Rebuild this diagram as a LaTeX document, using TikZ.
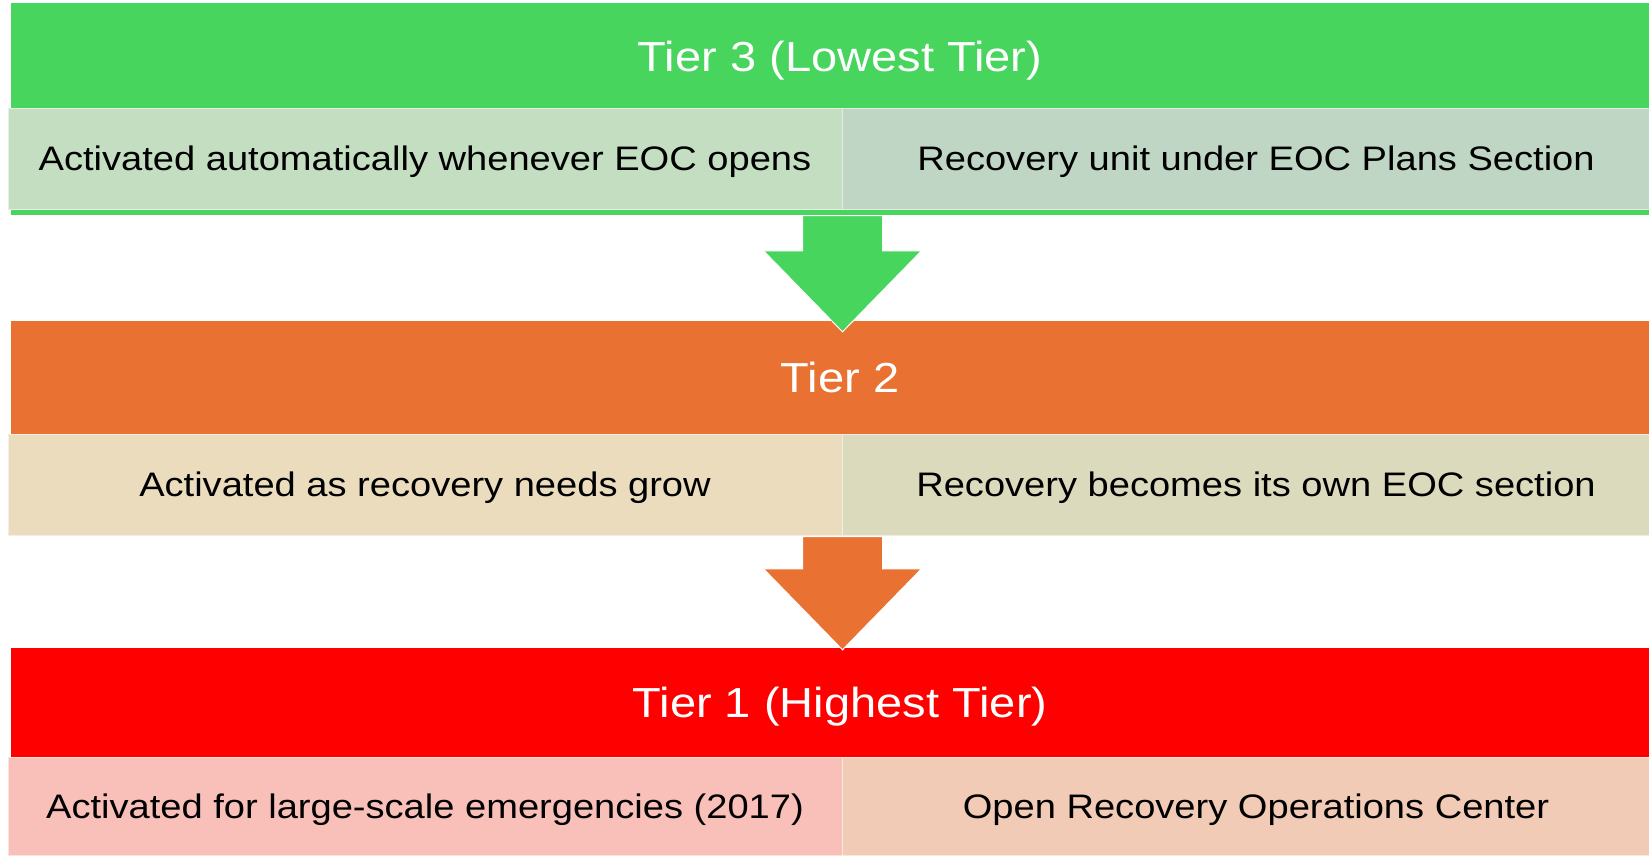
\documentclass[tikz,border=0pt]{standalone}
\usepackage{fontspec}
\setmainfont{Liberation Sans}[FakeStretch=1.12]
\usepackage{tikz}
\usetikzlibrary{calc}

\definecolor{greenhead}{HTML}{47D55E}
\definecolor{greenleft}{HTML}{C4DEC2}
\definecolor{greenright}{HTML}{C0D6C5}
\definecolor{orangehead}{HTML}{E97132}
\definecolor{orangeleft}{HTML}{EADCBD}
\definecolor{orangeright}{HTML}{DCDABD}
\definecolor{redhead}{HTML}{FF0000}
\definecolor{redleft}{HTML}{F8C0B9}
\definecolor{redright}{HTML}{F1CBB5}

\tikzset{
  tierhead/.style={rectangle, fill=#1, inner sep=0pt, minimum width=1658pt,
    text height=30pt, text depth=0pt,
    text=white, font=\fontsize{42}{50}\selectfont},
  tiercell/.style={rectangle, fill=#1, draw=#1!45!white, line width=1pt,
    inner sep=0pt, text height=24pt, text depth=0pt,
    text=black, font=\fontsize{34}{40}\selectfont},
}

% block arrow from the bottom of one tier to the top of the next
\newcommand{\tierarrow}[3]{%
  \filldraw[fill=#3, draw=white, line width=1pt]
    let \p1=(#1), \p2=(#2) in
    (\x1-40pt,\y1) -- (\x1+40pt,\y1) -- (\x1+40pt,\y2+81pt)
    -- (\x1+79pt,\y2+81pt) -- (\x1,\y2) -- (\x1-79pt,\y2+81pt)
    -- (\x1-40pt,\y2+81pt) -- cycle;
}

\begin{document}
\begin{tikzpicture}[x=1pt, y=-1pt]
\useasboundingbox (0,0) rectangle (1649,855);

%% Tier 3
\fill[greenhead] (11,3) rectangle (1669,215);
\path
(840,56) node[tierhead=greenhead, minimum height=105pt](tier3) {Tier 3 (Lowest Tier)}
(425,158.5) node[tiercell=greenleft, minimum width=834pt, minimum height=101pt](t3left)
  {Activated automatically whenever EOC opens}
(1256,158.5) node[tiercell=greenright, minimum width=828pt, minimum height=101pt](t3right)
  {Recovery unit under EOC Plans Section};

%% Tier 2
\path
(840,377.5) node[tierhead=orangehead, minimum height=113pt](tier2) {Tier 2}
(425,484.5) node[tiercell=orangeleft, minimum width=834pt, minimum height=101pt](t2left)
  {Activated as recovery needs grow}
(1256,484.5) node[tiercell=orangeright, minimum width=828pt, minimum height=101pt](t2right)
  {Recovery becomes its own EOC section};

%% Tier 1
\path
(840,702.5) node[tierhead=redhead, minimum height=109pt](tier1) {Tier 1 (Highest Tier)}
(425,806) node[tiercell=redleft, minimum width=834pt, minimum height=98pt](t1left)
  {Activated for large-scale emergencies (2017)}
(1256,806) node[tiercell=redright, minimum width=828pt, minimum height=98pt](t1right)
  {Open Recovery Operations Center};

%% arrows between the tiers
\tierarrow{$(t3left.south east)+(0,6)$}{$(tier2.north)+(0,11)$}{greenhead}
\tierarrow{$(t2left.south east)+(0,1)$}{$(tier1.north)+(0,2)$}{orangehead}

\end{tikzpicture}
\end{document}
